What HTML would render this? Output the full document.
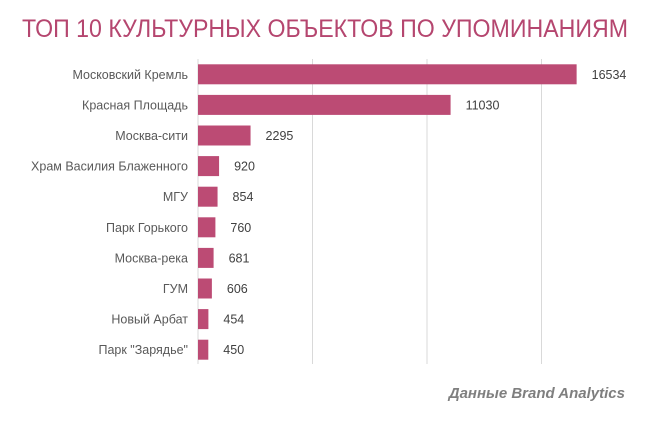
<!DOCTYPE html>
<html><head><meta charset="utf-8"><style>
body{margin:0;background:#fff;width:650px;height:417px;overflow:hidden;font-family:"Liberation Sans","DejaVu Sans",sans-serif}
</style></head><body>
<svg width="650" height="417" xmlns="http://www.w3.org/2000/svg">
<text x="325" y="37" text-anchor="middle" font-size="25" fill="#b5466f" textLength="606" lengthAdjust="spacingAndGlyphs">ТОП 10 КУЛЬТУРНЫХ ОБЪЕКТОВ ПО УПОМИНАНИЯМ</text>
<g id="grid"></g><g id="bars"></g>
<text x="625" y="398" text-anchor="end" font-size="15" font-weight="bold" font-style="italic" fill="#7f7f7f">Данные Brand Analytics</text>
</svg>
<script>
const categories=["Московский Кремль","Красная Площадь","Москва-сити","Храм Василия Блаженного","МГУ","Парк Горького","Москва-река","ГУМ","Новый Арбат","Парк \"Зарядье\""];
const values=[16534,11030,2295,920,854,760,681,606,454,450];
const gridTicks=[0,5000,10000,15000];
const NS="http://www.w3.org/2000/svg";
const x0=198,scale=114.5/5000,top0=59,step=30.6,bh=20,gridBottom=364;
const xs=v=>x0+v*scale;
const g=document.getElementById('grid'),b=document.getElementById('bars');
gridTicks.forEach(t=>{const l=document.createElementNS(NS,'line');


l.setAttribute('x1',xs(t));l.setAttribute('x2',xs(t));l.setAttribute('y1',top0);l.setAttribute('y2',gridBottom);
l.setAttribute('stroke','#d9d9d9');l.setAttribute('stroke-width','1');g.appendChild(l);});
categories.forEach((c,i)=>{const cy=top0+step*(i+0.5);
const r=document.createElementNS(NS,'rect');


r.setAttribute('x',x0);r.setAttribute('y',cy-bh/2);r.setAttribute('width',Math.max(1,xs(values[i])-x0));r.setAttribute('height',bh);r.setAttribute('fill','#bc4b74');b.appendChild(r);
const t=document.createElementNS(NS,'text');


t.setAttribute('x',188);t.setAttribute('y',cy+4.5);t.setAttribute('text-anchor','end');t.setAttribute('font-size','12.5');t.setAttribute('fill','#595959');t.textContent=c;b.appendChild(t);
const v=document.createElementNS(NS,'text');


v.setAttribute('x',xs(values[i])+15);v.setAttribute('y',cy+4.5);v.setAttribute('font-size','12.5');v.setAttribute('fill','#404040');v.textContent=values[i];b.appendChild(v);});
</script>
</body></html>
